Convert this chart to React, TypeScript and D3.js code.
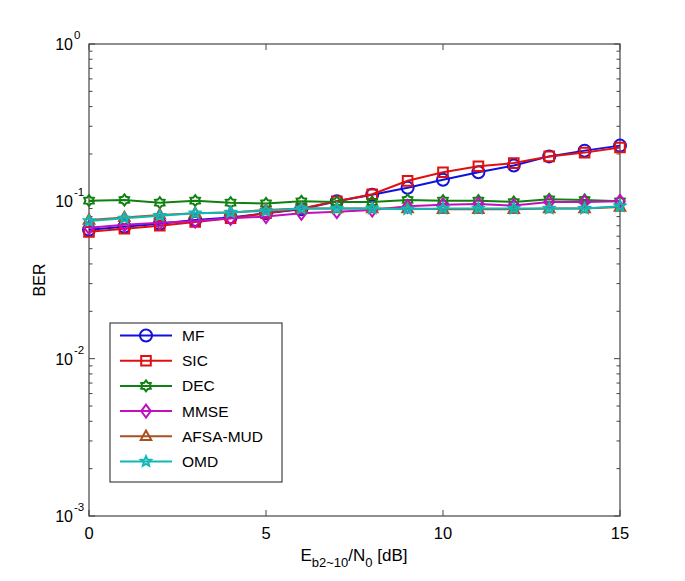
import React from "react";
import * as d3 from "d3";

const ebn0 = [0, 1, 2, 3, 4, 5, 6, 7, 8, 9, 10, 11, 12, 13, 14, 15];
const mf = [0.066, 0.069, 0.072, 0.076, 0.079, 0.084, 0.089, 0.1, 0.11, 0.122, 0.137, 0.153, 0.169, 0.193, 0.21, 0.226];
const sic = [0.064, 0.067, 0.07, 0.074, 0.078, 0.084, 0.09, 0.1, 0.111, 0.135, 0.153, 0.167, 0.175, 0.193, 0.204, 0.22];
const dec = [0.101, 0.102, 0.098, 0.101, 0.098, 0.097, 0.1, 0.099, 0.099, 0.102, 0.101, 0.101, 0.099, 0.103, 0.102, 0.1];
const mmse = [0.068, 0.071, 0.073, 0.075, 0.078, 0.08, 0.084, 0.086, 0.088, 0.093, 0.095, 0.096, 0.094, 0.099, 0.099, 0.1];
const afsa = [0.076, 0.079, 0.082, 0.084, 0.085, 0.088, 0.09, 0.09, 0.09, 0.09, 0.089, 0.089, 0.089, 0.09, 0.09, 0.092];
const omd = [0.075, 0.078, 0.081, 0.084, 0.085, 0.087, 0.09, 0.09, 0.09, 0.089, 0.09, 0.09, 0.09, 0.09, 0.09, 0.093];

const seriesNames = ["MF", "SIC", "DEC", "MMSE", "AFSA-MUD", "OMD"];
const seriesValues = [mf, sic, dec, mmse, afsa, omd];
const seriesColors = ["#1010e0", "#e01010", "#108010", "#c010c0", "#a85020", "#10b8b8"];
const seriesMarkers = ["circle", "square", "hexagram", "diamond", "triangle", "star"];

const xTicks = [0, 5, 10, 15];
const yDecades = [0, -1, -2, -3];

const L = 89, R = 620, T = 44, B = 516;

function markerPath(kind: string, s: number): string | null {
  switch (kind) {
    case "square":
      return `M${-s},${-s}H${s}V${s}H${-s}Z`;
    case "diamond":
      return `M0,${-s * 1.35}L${s * 1.0},0L0,${s * 1.35}L${-s * 1.0},0Z`;
    case "triangle":
      return `M0,${-s * 1.2}L${s * 1.1},${s * 0.75}L${-s * 1.1},${s * 0.75}Z`;
    case "star": {
      const pts: string[] = [];
      for (let i = 0; i < 10; i++) {
        const r = i % 2 === 0 ? s * 1.1 : s * 0.5;
        const a = -Math.PI / 2 + (i * Math.PI) / 5;
        pts.push(`${(r * Math.cos(a)).toFixed(2)},${(r * Math.sin(a)).toFixed(2)}`);
      }
      return "M" + pts.join("L") + "Z";
    }
    case "hexagram": {
      const pts: string[] = [];
      for (let i = 0; i < 12; i++) {
        const r = i % 2 === 0 ? s * 1.15 : s * 0.75;
        const a = -Math.PI / 2 + (i * Math.PI) / 6;
        pts.push(`${(r * Math.cos(a)).toFixed(2)},${(r * Math.sin(a)).toFixed(2)}`);
      }
      return "M" + pts.join("L") + "Z";
    }
    default:
      return null;
  }
}

function Marker({ kind, x, y, color }: { kind: string; x: number; y: number; color: string }) {
  if (kind === "circle") {
    return <circle cx={x} cy={y} r={6} fill="none" stroke={color} strokeWidth={2} />;
  }
  const s = 4.8;
  return (
    <path
      d={markerPath(kind, s) || ""}
      transform={`translate(${x},${y})`}
      fill="none"
      stroke={color}
      strokeWidth={2}
      strokeLinejoin="miter"
    />
  );
}

export default function App() {
  const x = d3.scaleLinear().domain([0, 15]).range([L, R]);
  const y = d3.scaleLog().domain([1e-3, 1]).range([B, T]);

  const line = d3
    .line<number>()
    .x((_, i) => x(ebn0[i]))
    .y((d) => y(d));

  const minorTicks: number[] = [];
  for (let e = -3; e < 0; e++) {
    for (let m = 2; m <= 9; m++) minorTicks.push(m * Math.pow(10, e));
  }

  const font = "Liberation Sans, Arial, sans-serif";
  const legX = 110, legY = 323, legW = 172, legH = 159, legStep = 25.2;

  return (
    <svg
      width={685}
      height={581}
      style={{ position: "absolute", left: 0, top: 0, background: "#fff" }}
      fontFamily={font}
    >
      <rect x={0} y={0} width={685} height={581} fill="#fff" />
      <rect x={L} y={T} width={R - L} height={B - T} fill="#fff" stroke="#444" strokeWidth={1.2} />
      {xTicks.map((t) => (
        <g key={"xt" + t}>
          <line x1={x(t)} x2={x(t)} y1={B} y2={B - 6} stroke="#444" />
          <line x1={x(t)} x2={x(t)} y1={T} y2={T + 6} stroke="#444" />
          <text x={x(t)} y={B + 23} fontSize={16.5} textAnchor="middle" fill="#000">
            {t}
          </text>
        </g>
      ))}
      {yDecades.map((e) => {
        const yy = y(Math.pow(10, e));
        return (
          <g key={"yt" + e}>
            <line x1={L} x2={L + 6} y1={yy} y2={yy} stroke="#444" />
            <line x1={R} x2={R - 6} y1={yy} y2={yy} stroke="#444" />
            <text x={73} y={yy + 6} fontSize={16} textAnchor="end" fill="#000">
              10
            </text>
            <text x={74} y={yy - 5} fontSize={11.5} textAnchor="start" fill="#000">
              {e}
            </text>
          </g>
        );
      })}
      {minorTicks.map((v, i) => (
        <g key={"mt" + i}>
          <line x1={L} x2={L + 3.5} y1={y(v)} y2={y(v)} stroke="#444" />
          <line x1={R} x2={R - 3.5} y1={y(v)} y2={y(v)} stroke="#444" />
        </g>
      ))}
      {seriesValues.map((vals, si) => (
        <g key={"s" + si}>
          <path d={line(vals) || ""} fill="none" stroke={seriesColors[si]} strokeWidth={2} />
          {vals.map((v, i) => (
            <Marker key={i} kind={seriesMarkers[si]} x={x(ebn0[i])} y={y(v)} color={seriesColors[si]} />
          ))}
        </g>
      ))}
      <text
        transform={`translate(45,${(T + B) / 2}) rotate(-90)`}
        fontSize={16}
        textAnchor="middle"
        fill="#000"
      >
        BER
      </text>
      <text x={354} y={561} fontSize={17} textAnchor="middle" fill="#000">
        <tspan>E</tspan>
        <tspan fontSize={13} dy={6}>b2~10</tspan>
        <tspan dy={-6}>/N</tspan>
        <tspan fontSize={13} dy={6}>0</tspan>
        <tspan dy={-6}> [dB]</tspan>
      </text>
      <rect x={legX} y={legY} width={legW} height={legH} fill="#fff" stroke="#444" strokeWidth={1.2} />
      {seriesNames.map((name, i) => {
        const ly = legY + 12.5 + i * legStep;
        return (
          <g key={"lg" + i}>
            <line x1={legX + 10} x2={legX + 62} y1={ly} y2={ly} stroke={seriesColors[i]} strokeWidth={2} />
            <Marker kind={seriesMarkers[i]} x={legX + 36} y={ly} color={seriesColors[i]} />
            <text x={legX + 72} y={ly + 5.5} fontSize={15.5} fill="#000">
              {name}
            </text>
          </g>
        );
      })}
    </svg>
  );
}
